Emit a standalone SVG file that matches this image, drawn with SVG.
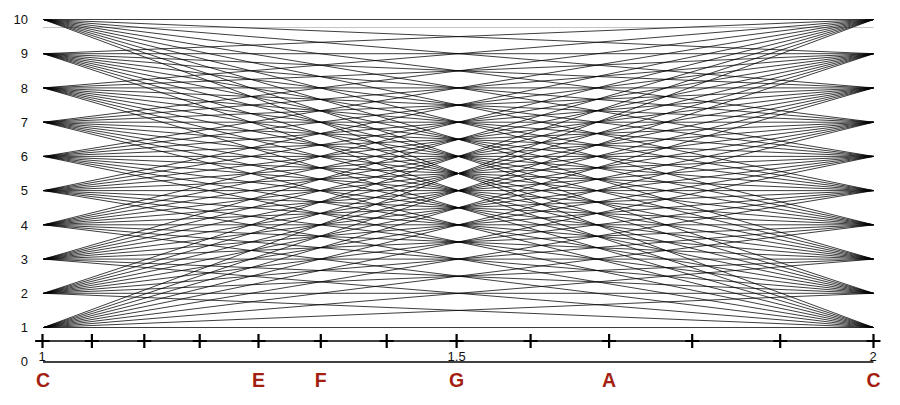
<svg xmlns="http://www.w3.org/2000/svg" width="900" height="405" viewBox="0 0 900 405">
<style>
.fan{fill:none;stroke:#000;stroke-width:0.9;stroke-opacity:0.85}
.num{font-family:"Liberation Sans",Arial,sans-serif;font-size:13px;fill:#111}
.note{font-family:"Liberation Sans",Arial,sans-serif;font-size:19.5px;font-weight:bold;fill:#a31f12;text-anchor:middle}
.tick{fill:none;stroke:#000;stroke-width:2.2}
</style>
<rect width="900" height="405" fill="#fff"/>
<g id="y-labels" class="num" text-anchor="end">
<text x="28" y="24.2">10</text>
<text x="28" y="58.4">9</text>
<text x="28" y="92.6">8</text>
<text x="28" y="126.9">7</text>
<text x="28" y="161.1">6</text>
<text x="28" y="195.3">5</text>
<text x="28" y="229.5">4</text>
<text x="28" y="263.8">3</text>
<text x="28" y="298">2</text>
<text x="28" y="332.2">1</text>
<text x="28" y="366.4">0</text>
</g>
<line x1="43" y1="27.5" x2="873.5" y2="27.5" stroke="#c4c4c4" stroke-width="1"/>
<g id="connectors" class="fan">
<path d="M43.5 327.5 873.5 327.5M43.5 327.5 873.5 293.3M43.5 327.5 873.5 259.1M43.5 327.5 873.5 224.8M43.5 327.5 873.5 190.6M43.5 327.5 873.5 156.4M43.5 327.5 873.5 122.2M43.5 327.5 873.5 87.9M43.5 327.5 873.5 53.7M43.5 327.5 873.5 19.5"/>
<path d="M43.5 293.3 873.5 327.5M43.5 293.3 873.5 293.3M43.5 293.3 873.5 259.1M43.5 293.3 873.5 224.8M43.5 293.3 873.5 190.6M43.5 293.3 873.5 156.4M43.5 293.3 873.5 122.2M43.5 293.3 873.5 87.9M43.5 293.3 873.5 53.7M43.5 293.3 873.5 19.5"/>
<path d="M43.5 259.1 873.5 327.5M43.5 259.1 873.5 293.3M43.5 259.1 873.5 259.1M43.5 259.1 873.5 224.8M43.5 259.1 873.5 190.6M43.5 259.1 873.5 156.4M43.5 259.1 873.5 122.2M43.5 259.1 873.5 87.9M43.5 259.1 873.5 53.7M43.5 259.1 873.5 19.5"/>
<path d="M43.5 224.8 873.5 327.5M43.5 224.8 873.5 293.3M43.5 224.8 873.5 259.1M43.5 224.8 873.5 224.8M43.5 224.8 873.5 190.6M43.5 224.8 873.5 156.4M43.5 224.8 873.5 122.2M43.5 224.8 873.5 87.9M43.5 224.8 873.5 53.7M43.5 224.8 873.5 19.5"/>
<path d="M43.5 190.6 873.5 327.5M43.5 190.6 873.5 293.3M43.5 190.6 873.5 259.1M43.5 190.6 873.5 224.8M43.5 190.6 873.5 190.6M43.5 190.6 873.5 156.4M43.5 190.6 873.5 122.2M43.5 190.6 873.5 87.9M43.5 190.6 873.5 53.7M43.5 190.6 873.5 19.5"/>
<path d="M43.5 156.4 873.5 327.5M43.5 156.4 873.5 293.3M43.5 156.4 873.5 259.1M43.5 156.4 873.5 224.8M43.5 156.4 873.5 190.6M43.5 156.4 873.5 156.4M43.5 156.4 873.5 122.2M43.5 156.4 873.5 87.9M43.5 156.4 873.5 53.7M43.5 156.4 873.5 19.5"/>
<path d="M43.5 122.2 873.5 327.5M43.5 122.2 873.5 293.3M43.5 122.2 873.5 259.1M43.5 122.2 873.5 224.8M43.5 122.2 873.5 190.6M43.5 122.2 873.5 156.4M43.5 122.2 873.5 122.2M43.5 122.2 873.5 87.9M43.5 122.2 873.5 53.7M43.5 122.2 873.5 19.5"/>
<path d="M43.5 87.9 873.5 327.5M43.5 87.9 873.5 293.3M43.5 87.9 873.5 259.1M43.5 87.9 873.5 224.8M43.5 87.9 873.5 190.6M43.5 87.9 873.5 156.4M43.5 87.9 873.5 122.2M43.5 87.9 873.5 87.9M43.5 87.9 873.5 53.7M43.5 87.9 873.5 19.5"/>
<path d="M43.5 53.7 873.5 327.5M43.5 53.7 873.5 293.3M43.5 53.7 873.5 259.1M43.5 53.7 873.5 224.8M43.5 53.7 873.5 190.6M43.5 53.7 873.5 156.4M43.5 53.7 873.5 122.2M43.5 53.7 873.5 87.9M43.5 53.7 873.5 53.7M43.5 53.7 873.5 19.5"/>
<path d="M43.5 19.5 873.5 327.5M43.5 19.5 873.5 293.3M43.5 19.5 873.5 259.1M43.5 19.5 873.5 224.8M43.5 19.5 873.5 190.6M43.5 19.5 873.5 156.4M43.5 19.5 873.5 122.2M43.5 19.5 873.5 87.9M43.5 19.5 873.5 53.7M43.5 19.5 873.5 19.5"/>
</g>
<g id="axis">
<line x1="35" y1="341" x2="880" y2="341" stroke="#000" stroke-width="1.3"/>
<path class="tick" d="M42.5 334V348M35.5 341H49.5M91.9 334V348M84.9 341H98.9M144.3 334V348M137.3 341H151.3M199.7 334V348M192.7 341H206.7M258.5 334V348M251.5 341H265.5M320.8 334V348M313.8 341H327.8M386.7 334V348M379.7 341H393.7M456.6 334V348M449.6 341H463.6M530.6 334V348M523.6 341H537.6M609.1 334V348M602.1 341H616.1M692.2 334V348M685.2 341H699.2M780.2 334V348M773.2 341H787.2M873.5 334V348M866.5 341H880.5"/>
<line x1="43" y1="362" x2="873.5" y2="362" stroke="#000" stroke-width="1.5"/>
<g class="num" text-anchor="middle">
<text x="42" y="360.5">1</text>
<text x="456.6" y="360.5">1.5</text>
<text x="873" y="360.5">2</text>
</g>
</g>
<g id="notes" class="note">
<text x="43" y="387">C</text>
<text x="258.5" y="387">E</text>
<text x="320.8" y="387">F</text>
<text x="456.6" y="387">G</text>
<text x="609.1" y="387">A</text>
<text x="873.5" y="387">C</text>
</g>
</svg>
